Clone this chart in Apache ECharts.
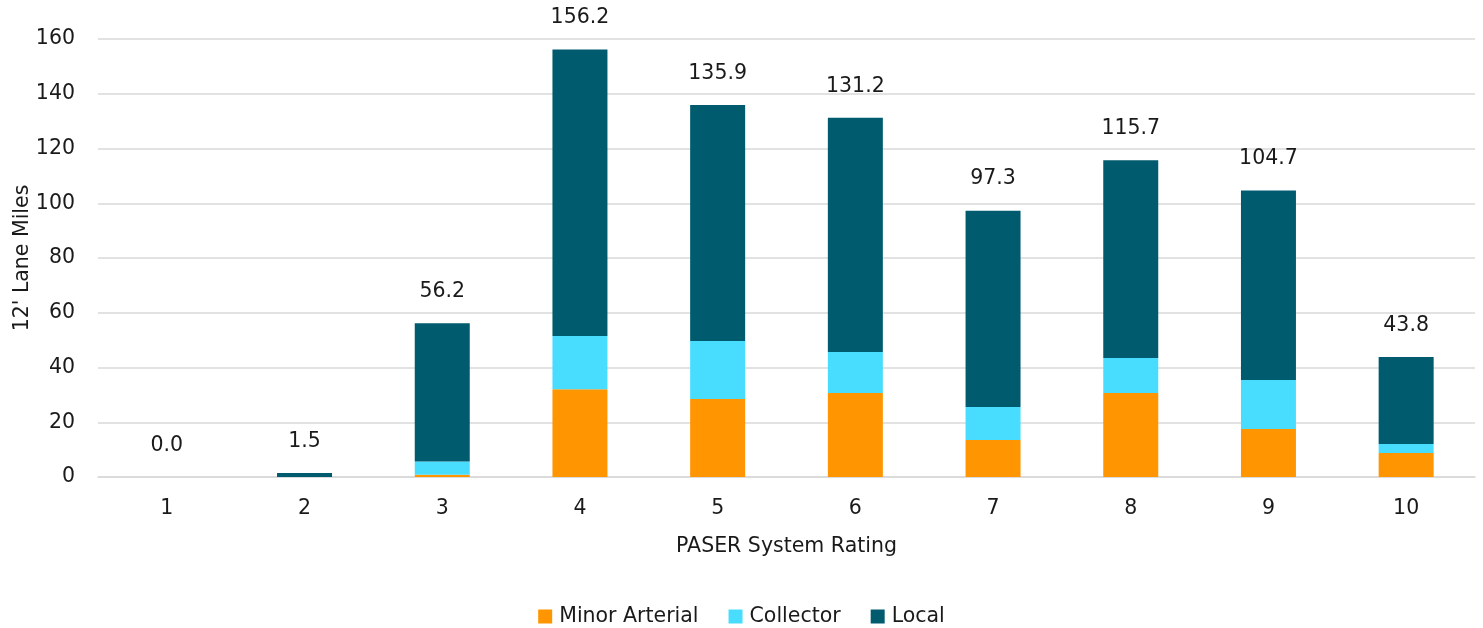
<!DOCTYPE html>
<html>
<head>
<meta charset="utf-8">
<script src="https://cdn.jsdelivr.net/npm/echarts@6/dist/echarts.min.js"></script>
<style>
  html, body { margin: 0; padding: 0; background: #ffffff; overflow: hidden; }
  #chart { width: 1483px; height: 628px; }
</style>
</head>
<body>
<div id="chart"></div>
<script>
// PASER ratings along the x axis
const ratings = ['1', '2', '3', '4', '5', '6', '7', '8', '9', '10'];

// 12' lane miles by functional class
const minorArterial = [0, 0, 0.8, 32.1, 28.5, 30.7, 13.5, 30.7, 17.5, 8.8];
const collector     = [0, 0, 4.9, 19.4, 21.2, 15.0, 12.1, 12.8, 17.9, 3.3];
const local         = [0, 1.5, 50.5, 104.7, 86.2, 85.5, 71.7, 72.2, 69.3, 31.7];

// Totals printed above each stack
const totals = [0.0, 1.5, 56.2, 156.2, 135.9, 131.2, 97.3, 115.7, 104.7, 43.8];

const FONT = '"DejaVu Sans", "Open Sans", sans-serif';
const SIZE = 20.5;
const TEXT = '#1a1a1a';

const chart = echarts.init(document.getElementById('chart'), null, { renderer: 'canvas' });

chart.setOption({
  animation: false,
  textStyle: { fontFamily: FONT, color: TEXT },
  grid: { left: 98, right: 8, top: 39, bottom: 151, containLabel: false, outerBoundsMode: 'none' },
  legend: {
    data: ['Minor Arterial', 'Collector', 'Local'],
    top: 601,
    left: 'center',
    itemWidth: 14,
    itemHeight: 14,
    itemGap: 30,
    icon: 'rect',
    textStyle: { fontFamily: FONT, fontSize: SIZE, color: TEXT, padding: [0, 0, 0, 2] }
  },
  xAxis: {
    type: 'category',
    data: ratings,
    name: 'PASER System Rating',
    nameLocation: 'middle',
    nameGap: 59,
    nameTextStyle: { fontFamily: FONT, fontSize: SIZE, color: TEXT },
    axisLine: { lineStyle: { color: '#d9d9d9', width: 1.5 } },
    axisTick: { show: false },
    axisLabel: { fontFamily: FONT, fontSize: SIZE, color: TEXT, margin: 21 }
  },
  yAxis: {
    type: 'value',
    min: 0,
    max: 160,
    interval: 20,
    name: "12' Lane Miles",
    nameLocation: 'middle',
    nameGap: 65,
    nameRotate: 90,
    nameMoveOverlap: false,
    nameTextStyle: { fontFamily: FONT, fontSize: SIZE, color: TEXT },
    axisLine: { show: false },
    axisTick: { show: false },
    axisLabel: { fontFamily: FONT, fontSize: SIZE, color: TEXT, margin: 23 },
    splitLine: { lineStyle: { color: '#d9d9d9', width: 1.5 } }
  },
  series: [
    {
      name: 'Minor Arterial',
      type: 'bar',
      stack: 'total',
      barWidth: 55,
      itemStyle: { color: '#FF9500' },
      data: minorArterial
    },
    {
      name: 'Collector',
      type: 'bar',
      stack: 'total',
      barWidth: 55,
      itemStyle: { color: '#48DDFF' },
      data: collector
    },
    {
      name: 'Local',
      type: 'bar',
      stack: 'total',
      barWidth: 55,
      itemStyle: { color: '#005B6E' },
      label: {
        show: true,
        position: 'top',
        distance: 21,
        fontFamily: FONT,
        fontSize: SIZE,
        color: TEXT,
        formatter: p => totals[p.dataIndex].toFixed(1)
      },
      data: local
    }
  ]
});
</script>
</body>
</html>
